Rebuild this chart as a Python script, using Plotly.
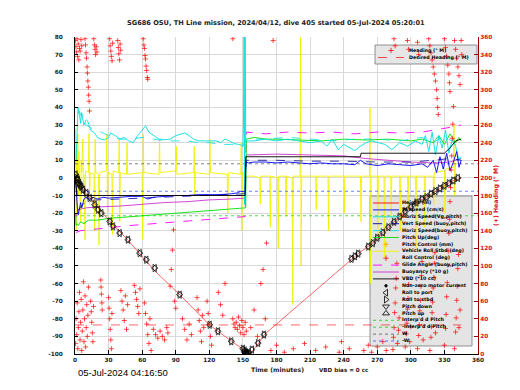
import plotly.graph_objects as go

# ---------------- tick labels ----------------
time_ticks = [0, 30, 60, 90, 120, 150, 180, 210, 240, 270, 300, 330, 360]
left_ticks = [-100, -90, -80, -70, -60, -50, -40, -30, -20, -10, 0, 10, 20, 30, 40, 50, 60, 70, 80]
heading_ticks = [0, 20, 40, 60, 80, 100, 120, 140, 160, 180, 200, 220, 240, 260, 280, 300, 320, 340, 360]

# ---------------- depth (m/10) ----------------
depth_t = [0, 3, 7, 15, 31, 47, 70, 93.5, 120, 140, 153, 156, 160, 164, 169, 200, 230, 253, 266, 275, 285, 295, 305, 314, 325, 336, 345]
depth_v = [0, -2.5, -6.7, -12.5, -24.7, -35.1, -52, -66.3, -83.4, -92.8, -98.5, -100, -97, -94, -89, -72, -56, -43, -37, -31, -25, -19, -14, -11, -6.5, -2, 0]

# roll markers along the depth trace
roll_t = [0.5, 1.5, 2.5, 3.5, 4.5, 5.5, 7.1, 10.1, 13.1, 17.6, 20.5, 23.5, 31, 34, 39.9, 47.3, 57.8, 63.7, 71.2, 93.5, 120.3, 127.7, 139.6, 150, 151.5, 152.5, 153, 153.5, 154, 155,
          158, 163.5, 168.8, 247, 250, 253, 262, 266, 270, 275, 280, 285, 290, 295, 300, 305, 310, 314, 318, 322, 326, 330, 334, 338, 342]
roll_v = [2, 0, -1, -3, -4, -5, -6.7, -8.6, -11.4, -15.2, -18, -20, -24.7, -27.5, -31.3, -35.1, -42.7, -46.5, -51.2, -66.3, -83.4, -87.1, -92.8, -97, -98, -99, -99.5, -100, -100, -99.5,
          -97.5, -93.8, -89, -46, -44.5, -43, -39, -37, -34, -31, -28, -25, -22, -19, -16.5, -14, -12, -11, -9, -7.5, -6, -4.5, -3, -1.5, 0]

# ---------------- W speed (cm/s) ----------------
w_t = [0.5, 1, 2, 3, 4, 5, 6, 8, 10, 13, 16, 20, 25, 30, 40, 50, 60, 65, 70, 80, 90, 100, 110, 120, 130, 140, 145, 148, 150, 152,
       152.5, 155, 160, 170, 180, 190, 200, 210, 220, 230, 240, 250, 255, 260, 270, 280, 290, 300, 310, 315, 320, 323, 326, 329, 332, 335, 338, 341, 343, 345]
w_v = [0, -8, -16, -21, -18, -14, -17, -12, -11, -12, -11, -12, -11, -11.5, -11, -10.5, -10.5, -12, -11, -10.5, -10, -10, -9.5, -9.5, -9.5, -9, -8.5, -7.6, -8, -8,
       9, 8.5, 9, 9, 8.5, 9, 8.5, 8, 8.5, 8, 8, 7.5, 10, 8, 7, 8, 7.5, 7, 8, 6, 10, 3, 12, 5, 14, 4, 9, 15, 6, 10]

# vertical speed (buoy, pitch)
vsb_t = [3, 10, 20, 40, 60, 80, 100, 120, 140, 152, 153, 180, 210, 240, 270, 300, 320, 335, 345]
vsb_v = [-18, -13, -12.5, -12, -11.5, -11, -10.5, -10, -9.5, -9, 10, 10, 9.5, 9.5, 9, 9, 10, 11, 10]

# ---------------- horizontal speed (Vg, pitch) ----------------
hs_t = [1, 2, 2.7, 4, 5, 6, 8, 10, 11.6, 14, 17.6, 20, 23, 26.5, 30, 32, 36, 40, 44, 48, 52, 56, 60, 63, 66, 70, 75, 80, 85, 90, 95, 98, 102, 106, 110, 115, 121.6, 126, 130, 134, 138, 142, 146, 148, 150, 150.5, 151, 151.5, 152,
        152.5, 154, 160, 170, 180, 190, 200, 210, 220, 225, 230, 235, 240, 245, 250, 255, 260, 265, 270, 277, 283, 290, 297, 304, 310, 313, 316, 319, 322, 325, 328, 331, 334, 337, 340, 343, 345]
hs_v = [10, 32, 40, 36, 31, 37, 30, 33, 32, 27, 25.5, 23, 22, 21.7, 23, 25.5, 24, 22, 23, 21, 20, 24, 27, 29.5, 26, 24, 22, 21.7, 22, 24, 25, 25.5, 24, 22, 21, 21, 20.6, 21, 20, 22, 21, 19.5, 19, 18.8, 18, 30, 85, -15, 85,
        20, 21, 21, 22, 21, 22, 21, 20, 21, 18, 22, 16, 19, 17, 15.5, 18, 20, 21, 20, 19, 16, 20, 18, 21, 19, 24, 15, 26, 13, 24, 17, 27, 14, 22, 18, 10, 12]

# horizontal speed (buoy, pitch)
hsb_t = [2, 4, 6, 10, 15, 20, 30, 40, 50, 60, 70, 80, 90, 100, 110, 120, 130, 140, 150, 153, 170, 190, 210, 230, 250, 270, 290, 310, 320, 330, 340, 345]
hsb_v = [36, 38, 33, 30, 28, 27, 24, 22, 22, 23, 22, 21, 21, 21, 20, 20, 19, 19, 18, 22, 22, 23, 22, 21, 22, 22, 21, 23, 20, 24, 19, 21]

# ---------------- pitch (deg) ----------------
pitch_t = [0.5, 1, 2, 3, 5, 8, 12, 20, 30, 40, 50, 60, 70, 80, 90, 100, 110, 120, 130, 140, 150, 152,
           152.5, 153, 160, 170, 180, 200, 220, 240, 260, 280, 300, 310, 320, 325, 330, 335, 340, 343, 345]
pitch_v = [-20, -27, -26, -27, -25, -26, -24, -24, -23, -22.5, -22, -21.5, -21, -20.5, -20, -19.5, -19, -18.5, -18, -17.5, -17, -17,
           -17, 22, 23, 22, 22, 21.5, 21, 22, 21.5, 22, 21, 22, 20, 24, 19, 25, 20, 23, 21]

# ---------------- glide angle (buoy, pitch) ----------------
glide_t = [1, 5, 20, 50, 80, 110, 140, 152, 153, 170, 190, 210, 230, 250, 270, 290, 310, 320, 330, 338, 345]
glide_v = [-31, -30, -29, -27, -25.5, -24, -22.5, -22, 26, 25, 26, 25.5, 26, 25, 26, 25.5, 26, 27, 28, 29, 30]

# ---------------- buoyancy (*10 g) ----------------
buoy_t = [1, 3, 10, 20, 40, 60, 80, 100, 120, 140, 152, 153, 180, 210, 240, 260, 280, 300, 320, 335, 345]
buoy_v = [-22, -18, -17, -16.5, -16, -15, -14, -13.5, -12.5, -12, -11.5, 13, 13.5, 13, 12.5, 11, 10, 9, 8.5, 9, 11]

# ---------------- VBD (*10 cc) ----------------
vbd_t = [0, 1, 2, 150, 152, 152.5, 255, 255.5, 330, 335, 340, 345]
vbd_v = [0, -5, -10, -10, -10, 12, 12, 14, 14, 17, 21, 22]

# ---------------- vehicle roll (deg) ----------------
roll_deg_t = [0, 0.5, 1, 1.5, 2, 2.5, 3, 3.5, 4, 5, 5.5, 6, 7, 7.5, 8, 9, 9.5, 12, 12.5, 13, 13.5, 17, 17.5, 18, 18.5, 21, 21.5, 22, 28, 28.5, 29, 29.5,
              33, 33.5, 34, 39, 39.5, 40, 40.5, 46, 46.5, 47, 60, 60.5, 61, 61.5, 75, 75.5, 76, 90, 90.5, 91, 106, 106.5, 107, 107.5, 120, 120.5, 121,
              136, 136.5, 137, 148, 148.5, 149, 149.5, 152,
              153, 160, 165, 165.5, 166, 174, 174.5, 175, 181, 181.5, 182, 188, 188.5, 189, 194, 194.5, 195, 201, 201.5, 202, 202.5, 215, 215.5, 216,
              226, 226.5, 227, 240, 240.5, 241, 255, 255.5, 256, 263, 263.5, 264, 264.5, 270, 270.5, 271, 276, 276.5, 277, 282, 282.5, 283,
              290, 290.5, 291, 297, 297.5, 298, 304, 304.5, 305, 312, 312.5, 313, 320, 320.5, 321, 330, 330.5, 331, 338, 338.5, 339, 340, 345]
roll_deg_v = [5, 28, -30, 20, -20, 25, -10, 15, 2, -25, 10, 3, 22, -5, 2, -35, 4, 3, 25, -15, 3, 2, -30, 22, 3, 2, -38, 3, 4, 25, -20, 3,
              2, -32, 4, 3, 22, -25, 3, 2, 20, 2, 3, -35, 25, 3, 2, 22, 3, 4, 18, 2, 3, 18, -10, 3, 2, 22, 3,
              2, -20, 3, 2, 20, -30, 3, 2,
              1, 1, 0, -15, 1, 1, -28, 1, 0, -40, 1, 1, -22, 1, 0, -72, 1, 1, 80, -50, 1, 1, -18, 1,
              1, -30, 1, 1, -20, 1, 1, -25, 1, 1, 40, -60, 1, 1, -35, 1, 1, -45, 1, 1, -22, 1,
              1, -30, 1, 1, -18, 1, 1, -40, 1, 1, -28, 1, 1, -15, 3, 4, -20, 5, 6, 30, -10, 8, 8]

# ---------------- reference lines (W, -W, pitch) ----------------
ref_t = [0, 360]
w_pos = [8, 8]
w_neg = [-7.6, -7.6]
pitch_ref = [-21.5, -21.5]

# ---------------- heading (deg M, right axis) ----------------
hd_desc_top_t = [0.3, 0.8, 1.2, 1.8, 2.3, 2.8, 3.4, 4.0, 4.6, 5.3, 6.0, 9.0, 9.4, 9.9, 10.3, 10.8, 11.1, 11.5, 11.9, 12.2, 12.6, 13.0,
                 16.8, 17.3, 17.9, 18.4, 19.0, 19.6, 31.0, 31.4, 32.0, 32.5, 33.1, 33.6, 38.2, 38.7, 39.2, 39.8, 40.3, 40.8,
                 61.0, 61.5, 62.0, 62.5, 63.0, 63.5, 64.0, 64.6, 65.0, 141.0, 177.0]
hd_desc_top_h = [356, 349, 343, 358, 338, 352, 334, 347, 344, 357, 350, 358, 351, 342, 336, 326, 319, 310, 303, 294, 287, 276,
                 358, 351, 346, 340, 349, 343, 358, 350, 344, 338, 333, 353, 356, 348, 341, 334, 352, 345,
                 358, 351, 347, 339, 335, 327, 322, 314, 312, 358, 356]
hd_desc_bot_t = [0.5, 1.0, 1.5, 2.0, 2.5, 3.0, 3.5, 4.0, 4.5, 5.0, 5.5, 6.0, 6.5, 7.0, 7.5, 8.0, 8.5, 9.0, 9.5, 10.0, 10.5, 11.0, 11.5, 12.0,
                 14.0, 14.5, 15.0, 15.5, 16.0, 16.5, 23.0, 23.3, 23.6, 24.0, 24.3, 30.0, 30.5, 31.0, 31.5, 32.0, 32.5, 33.0,
                 41, 42, 43, 44, 45, 46, 47, 53, 54, 55, 56, 57, 58, 62, 63, 64, 65, 66, 67, 68,
                 70, 72, 74, 76, 78, 80, 82, 83, 85, 86, 87, 88, 89, 90, 96, 98, 100, 102, 104,
                 109, 110, 111, 112, 113, 114, 115, 118, 119, 120, 121, 122, 128, 130, 132, 134,
                 141, 142, 143, 144, 145, 146, 147, 148, 149, 150, 151, 152, 153, 157, 160, 163, 166, 168, 170, 171]
hd_desc_bot_h = [12, 40, 22, 58, 6, 30, 48, 70, 16, 36, 62, 4, 26, 50, 82, 14, 40, 66, 8, 30, 56, 20, 44, 76,
                 60, 48, 36, 24, 14, 54, 84, 76, 68, 58, 50, 64, 52, 40, 28, 16, 6, 46,
                 72, 60, 50, 38, 66, 28, 56, 78, 70, 62, 54, 46, 74, 58, 46, 34, 22, 12, 40, 4,
                 28, 22, 18, 26, 20, 16, 30, 24, 77, 96, 118, 141, 60, 52, 40, 28, 16, 34, 22,
                 64, 50, 38, 26, 14, 44, 30, 60, 46, 34, 20, 10, 70, 56, 44, 80,
                 40, 34, 30, 36, 28, 42, 32, 24, 38, 30, 22, 36, 26, 30, 50, 20, 80, 96, 40, 126]
hd_asc_bot_t = [175, 180, 187, 195, 205, 215, 224, 236, 238, 245, 258, 262, 265, 270, 275, 278,
                284, 284.5, 285, 285.5, 286, 286.5, 287, 287.5, 288, 289, 289.5,
                295, 296, 296.5, 297, 297.5, 298, 299, 300,
                306, 307, 307.5, 308, 308.5, 309, 309.5, 310, 311,
                317, 318, 318.5, 319, 319.5, 320, 320.5, 321, 321.5, 322,
                330, 331, 331.5, 332, 332.5, 333, 333.5, 334, 334.5, 335, 335.5, 336, 336.5, 337, 337.5, 338,
                339, 340, 340.5, 341, 341.5, 342, 342.5, 343, 344]
hd_asc_bot_h = [4, 10, 2, 6, 12, 4, 8, 2, 14, 6, 4, 10, 2, 8, 14, 4,
                5, 19, 30, 47, 58, 75, 86, 103, 12, 27, 41,
                8, 23, 35, 51, 63, 79, 14, 31,
                6, 21, 33, 49, 61, 77, 89, 105, 16,
                4, 19, 31, 47, 59, 75, 87, 103, 115, 24,
                10, 29, 45, 65, 81, 101, 117, 137, 153, 173, 189, 209, 225, 245, 261, 281,
                6, 25, 41, 61, 77, 97, 113, 30, 50]
hd_asc_top_t = [285, 286, 297, 298, 306, 307, 316, 317, 318, 319, 320, 321, 322, 323, 323.5, 324, 324.5,
                330, 331, 332, 333, 334, 334.5, 335, 339, 340, 341, 342, 343, 344, 345, 345.5]
hd_asc_top_h = [358, 350, 356, 346, 354, 340, 358, 350, 342, 334, 326, 318, 310, 300, 290, 280, 272,
                358, 348, 338, 328, 318, 308, 298, 356, 346, 336, 326, 316, 306, 356, 340]
desired_heading_t = [0, 345]
desired_heading_h = [33, 33]

# ---------------- legend labels ----------------
legend1_labels = ["Heading (° M)", "Desired Heading (° M)"]
legend2_labels = ["Height (m)", "W speed (cm/s)", "Horiz Speed(Vg,pitch)", "Vert Speed (buoy,pitch)",
                  "Horiz Speed(buoy,pitch)", "Pitch Up(deg)", "Pitch Control (mm)", "Vehicle Roll Stbd (deg)",
                  "Roll Control (deg)", "Glide Angle (buoy,pitch)", "Buoyancy (*10 g)", "VBD (*10 cc)",
                  "Non-zero motor current", "Roll to port", "Roll to stbd", "Pitch down", "Pitch up",
                  "Interp'd d Pitch", "-Interp'd d Pitch", "W", "-W"]

# ================= styles =================
RED = "#ff0000"
BLUE = "#0000ff"
CYAN = "#00e0e0"
GREEN = "#00e000"
YELLOW = "#f2f200"
MAG = "#ff00ff"
VIOL = "#cc33cc"
FONT = "DejaVu Sans"

# plot area in pixels
PL, PR, PT, PB = 67, 470, 29, 346

def px_t(px):
    return (px - PL) / (PR - PL) * 360.0

def px_v(py):
    return 80.0 - (py - PT) / (PB - PT) * 180.0

fig = go.Figure()

# legend background boxes (drawn first, beneath the data)
for (bx0, bx1, by0, by1, fill) in [(367, 469, 37, 56, "#e6e6e6"), (362, 464, 188, 338, "#e4e4e4")]:
    fig.add_trace(go.Scatter(x=[px_t(bx0), px_t(bx1), px_t(bx1), px_t(bx0), px_t(bx0)],
                             y=[px_v(by0), px_v(by0), px_v(by1), px_v(by1), px_v(by0)],
                             mode="lines", fill="toself", fillcolor=fill,
                             line=dict(color="#777777", width=0.8),
                             hoverinfo="skip", showlegend=False))

def line(x, y, color, width=0.9, dash="solid", axis="y"):
    fig.add_trace(go.Scatter(x=x, y=y, mode="lines", yaxis=axis,
                             line=dict(color=color, width=width, dash=dash),
                             hoverinfo="skip", showlegend=False))

line(roll_deg_t, roll_deg_v, YELLOW, 0.9)
line(ref_t, w_pos, "#666666", 0.8, "dot")
line(ref_t, w_neg, "#4466ff", 0.8, "dot")
line(ref_t, pitch_ref, "#33cc33", 0.8, "dot")
line(glide_t, glide_v, MAG, 0.9, "dash")
line(buoy_t, buoy_v, VIOL, 0.9)
line(pitch_t, pitch_v, GREEN, 0.9)
line(hsb_t, hsb_v, CYAN, 0.8, "dash")
line(hs_t, hs_v, CYAN, 0.9)
line(vsb_t, vsb_v, "#000099", 0.8, "dash")
line(w_t, w_v, BLUE, 0.9)
line(vbd_t, vbd_v, "#000000", 0.9)
line(depth_t, depth_v, RED, 0.6)

for sym in ["triangle-left-open", "triangle-right-open"]:
    fig.add_trace(go.Scatter(x=roll_t, y=roll_v, mode="markers",
                             marker=dict(symbol=sym, size=6.5, color="black", line=dict(width=0.7, color="black")),
                             hoverinfo="skip", showlegend=False))

# heading on right axis
line(desired_heading_t, desired_heading_h, RED, 0.6, "dash", axis="y2")
hd_t = hd_desc_top_t + hd_desc_bot_t + hd_asc_bot_t + hd_asc_top_t
hd_h = hd_desc_top_h + hd_desc_bot_h + hd_asc_bot_h + hd_asc_top_h
fig.add_trace(go.Scatter(x=hd_t, y=hd_h, mode="markers", yaxis="y2",
                         marker=dict(symbol="cross-thin", size=3.6, color=RED, line=dict(width=0.7, color=RED)),
                         hoverinfo="skip", showlegend=False))

# ================= custom legends (pixel overlay axes) =================
def lg(x, y, color, dash="solid", width=0.9, msym=None, msize=5, mode="lines"):
    fig.add_trace(go.Scatter(x=x, y=y, xaxis="x2", yaxis="y3", mode=mode,
                             line=dict(color=color, width=width, dash=dash),
                             marker=dict(symbol=msym or "circle", size=msize, color=color,
                                         line=dict(width=0.8, color=color)),
                             hoverinfo="skip", showlegend=False))

# legend 1
l1_rows = [42.5, 49.5]
lg([383], [l1_rows[0]], RED, msym="cross-thin", msize=3.8, mode="markers")
lg([370, 396], [l1_rows[1]] * 2, RED, dash="dash", width=0.7)
fig.add_trace(go.Scatter(x=[401, 401], y=l1_rows, xaxis="x2", yaxis="y3", mode="text",
                         text=legend1_labels, textposition="middle right",
                         textfont=dict(family=FONT, size=4.8, color="black", weight="bold"),
                         hoverinfo="skip", showlegend=False))

# legend 2
r0, dr = 195.0, 6.9
rows = [r0 + i * dr for i in range(len(legend2_labels))]
X0, XM, X1 = 365, 378, 391
glyphs = [
    dict(color=RED), dict(color=BLUE), dict(color=CYAN), dict(color="#000099", dash="dash"),
    dict(color=CYAN, dash="dash"), dict(color=GREEN), dict(color="#ff9900", msym="cross-thin", mode="markers"),
    dict(color=YELLOW), dict(color=RED, msym="cross-thin", mode="markers"), dict(color=MAG, dash="dash"),
    dict(color=VIOL), dict(color="black"), dict(color="black", msym="circle", mode="markers", msize=2.5),
    dict(color="black", msym="triangle-left-open", mode="markers", msize=6),
    dict(color="black", msym="triangle-right-open", mode="markers", msize=6),
    dict(color="black", msym="triangle-down-open", mode="markers", msize=6),
    dict(color="black", msym="triangle-up-open", mode="markers", msize=6),
    dict(color="#33cc33", dash="dot"), dict(color="#33cc33", dash="dot"),
    dict(color="#666666", dash="dot"), dict(color="#4466ff", dash="dot"),
]
for ry, g in zip(rows, glyphs):
    if g.get("mode") == "markers":
        lg([XM], [ry], g["color"], msym=g.get("msym"), msize=g.get("msize", 3.8), mode="markers")
    else:
        lg([X0, X1], [ry, ry], g["color"], dash=g.get("dash", "solid"))
fig.add_trace(go.Scatter(x=[394] * len(rows), y=rows, xaxis="x2", yaxis="y3", mode="text",
                         text=legend2_labels, textposition="middle right",
                         textfont=dict(family=FONT, size=4.8, color="black", weight="bold"),
                         hoverinfo="skip", showlegend=False))

def fx(px):
    return (px - PL) / (PR - PL)

def fy(py):
    return (PB - py) / (PB - PT)

tickfont = dict(family=FONT, size=5.8, color="#222222", weight="bold")

fig.update_layout(
    width=520, height=390,
    margin=dict(l=PL, r=520 - PR, t=PT, b=390 - PB),
    paper_bgcolor="white", plot_bgcolor="white",
    showlegend=False,
    title=dict(text="SG686 OSU, TH Line mission, 2024/04/12, dive 405 started 05-Jul-2024 05:20:01",
               x=0.515, xanchor="center", y=1 - 15 / 390, yanchor="middle",
               font=dict(family=FONT, size=6.6, color="#222222", weight="bold")),
    xaxis=dict(range=[0, 360], tickvals=time_ticks, ticktext=[str(v) for v in time_ticks],
               showgrid=True, gridcolor="#d9d9d9", gridwidth=0.6, zeroline=False,
               showline=True, linecolor="black", linewidth=1, ticks="inside", ticklen=4,
               tickcolor="black", tickfont=tickfont),
    yaxis=dict(range=[-100, 80], tickvals=left_ticks, ticktext=[str(v) for v in left_ticks],
               showgrid=True, gridcolor="#d9d9d9", gridwidth=0.6, zeroline=False,
               showline=True, linecolor="black", linewidth=1, ticks="inside", ticklen=3,
               tickcolor="black", tickfont=tickfont, ticklabelstandoff=10),
    yaxis2=dict(range=[0, 360], overlaying="y", side="right", tickvals=heading_ticks,
                ticktext=[str(v) for v in heading_ticks], showgrid=False, zeroline=False,
                showline=True, linecolor="#990000", linewidth=1, ticks="inside", ticklen=4,
                tickcolor="#990000", tickfont=dict(family=FONT, size=5.8, color="#dd1111", weight="bold"),
                title=dict(text="(+) Heading (° M)", standoff=1,
                           font=dict(family=FONT, size=6.2, color="#dd1111", weight="bold"))),
    xaxis2=dict(range=[PL, PR], overlaying="x", anchor="y3", visible=False),
    yaxis3=dict(range=[PB, PT], overlaying="y", anchor="x2", visible=False),
    annotations=[
        dict(text="05-Jul-2024 04:16:50", xref="paper", yref="paper", x=fx(68), y=fy(364),
             xanchor="left", yanchor="middle", showarrow=False,
             font=dict(family="Liberation Sans", size=9.5, color="black")),
        dict(text="Time (minutes)", xref="paper", yref="paper", x=fx(269), y=fy(362),
             xanchor="center", yanchor="middle", showarrow=False,
             font=dict(family=FONT, size=6.2, color="#222222", weight="bold")),
        dict(text="VBD bias = 0 cc", xref="paper", yref="paper", x=fx(309), y=fy(362),
             xanchor="left", yanchor="middle", showarrow=False,
             font=dict(family=FONT, size=5.6, color="#222222", weight="bold")),
    ],
)

fig.write_html("out.html")
